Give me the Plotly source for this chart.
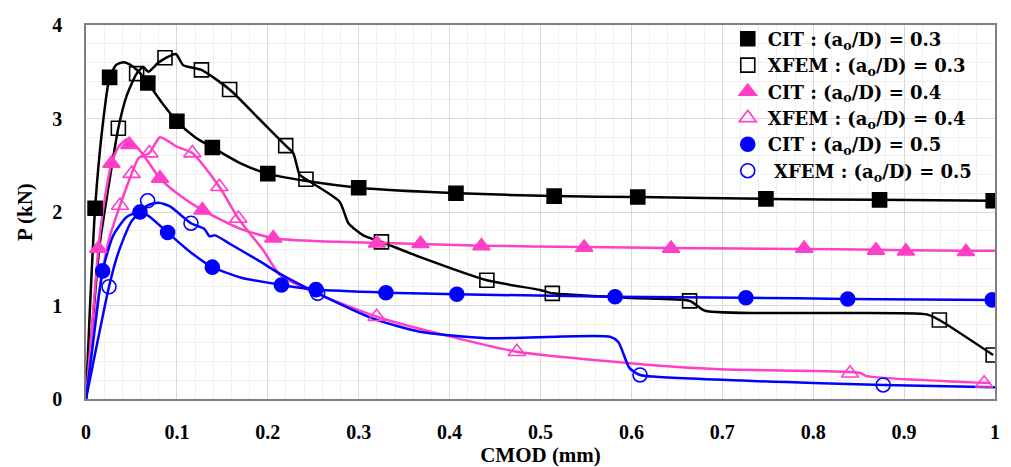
import plotly.graph_objects as go

# ---------------- data ----------------
# CIT : a0/D = 0.3
cit03_line_x = [0, 0.004, 0.01, 0.018, 0.026, 0.033, 0.04, 0.048, 0.058, 0.068, 0.085, 0.1, 0.12, 0.139, 0.17, 0.2, 0.25, 0.3, 0.41, 0.515, 0.61, 0.75, 0.87, 1.0]
cit03_line_y = [0, 0.9, 2.04, 2.9, 3.44, 3.57, 3.6, 3.58, 3.5, 3.38, 3.15, 2.97, 2.8, 2.69, 2.52, 2.41, 2.32, 2.26, 2.2, 2.17, 2.16, 2.14, 2.13, 2.12]
cit03_mk_x = [0.01, 0.026, 0.068, 0.1, 0.139, 0.2, 0.3, 0.407, 0.515, 0.607, 0.748, 0.873, 0.998]
cit03_mk_y = [2.04, 3.44, 3.38, 2.97, 2.69, 2.41, 2.26, 2.20, 2.17, 2.16, 2.14, 2.13, 2.12]

# XFEM : a0/D = 0.3
xfem03_line_x = [0, 0.008, 0.015, 0.022, 0.0356, 0.045, 0.0557, 0.063, 0.0686, 0.08, 0.0987, 0.107, 0.127, 0.158, 0.19, 0.2197, 0.228, 0.235, 0.242, 0.279, 0.2887, 0.305, 0.325, 0.367, 0.441, 0.4994, 0.513, 0.6, 0.664, 0.681, 0.8, 0.925, 0.9388, 0.998]
xfem03_line_y = [0, 0.9, 1.65, 2.1, 2.9, 3.25, 3.48, 3.55, 3.50, 3.6, 3.69, 3.57, 3.52, 3.31, 3.0, 2.71, 2.63, 2.40, 2.35, 2.11, 1.88, 1.75, 1.68, 1.52, 1.27, 1.166, 1.13, 1.08, 1.05, 0.944, 0.92, 0.905, 0.845, 0.47]
xfem03_mk_x = [0.0356, 0.0557, 0.0869, 0.127, 0.158, 0.2197, 0.242, 0.325, 0.441, 0.513, 0.664, 0.9388, 0.998]
xfem03_mk_y = [2.895, 3.48, 3.65, 3.52, 3.31, 2.71, 2.35, 1.68, 1.27, 1.13, 1.05, 0.845, 0.47]

# CIT : a0/D = 0.4
cit04_line_x = [0, 0.006, 0.0136, 0.02, 0.028, 0.036, 0.046, 0.06, 0.0814, 0.1, 0.128, 0.17, 0.206, 0.25, 0.32, 0.435, 0.548, 0.644, 0.79, 0.869, 0.902, 0.968, 1.0]
cit04_line_y = [0, 0.7, 1.61, 2.1, 2.52, 2.7, 2.78, 2.65, 2.36, 2.2, 2.02, 1.82, 1.72, 1.69, 1.67, 1.64, 1.625, 1.615, 1.605, 1.595, 1.59, 1.585, 1.585]
cit04_mk_x = [0.0136, 0.028, 0.0477, 0.0814, 0.128, 0.206, 0.32, 0.368, 0.435, 0.548, 0.6436, 0.79, 0.869, 0.902, 0.968]
cit04_mk_y = [1.61, 2.52, 2.72, 2.36, 2.02, 1.72, 1.665, 1.66, 1.636, 1.62, 1.61, 1.61, 1.59, 1.58, 1.575]

# XFEM : a0/D = 0.4
xfem04_line_x = [0, 0.012, 0.025, 0.0374, 0.0502, 0.058, 0.0697, 0.0814, 0.0997, 0.117, 0.1467, 0.1676, 0.195, 0.2134, 0.2537, 0.3197, 0.4, 0.474, 0.6205, 0.6975, 0.851, 0.859, 0.995]
xfem04_line_y = [0, 1.0, 1.7, 2.07, 2.41, 2.58, 2.63, 2.80, 2.70, 2.63, 2.27, 1.93, 1.59, 1.326, 1.13, 0.88, 0.67, 0.506, 0.364, 0.317, 0.28, 0.245, 0.17]
xfem04_mk_x = [0.0374, 0.0502, 0.0697, 0.117, 0.1467, 0.1676, 0.3197, 0.474, 0.8405, 0.988]
xfem04_mk_y = [2.07, 2.41, 2.63, 2.63, 2.27, 1.93, 0.88, 0.506, 0.275, 0.168]

# CIT : a0/D = 0.5
cit05_line_x = [0, 0.008, 0.0183, 0.03, 0.045, 0.0594, 0.07, 0.0898, 0.115, 0.139, 0.17, 0.215, 0.253, 0.33, 0.408, 0.582, 0.726, 0.838, 0.997]
cit05_line_y = [0, 0.62, 1.37, 1.75, 1.95, 2.0, 1.95, 1.78, 1.57, 1.41, 1.3, 1.22, 1.17, 1.137, 1.12, 1.094, 1.083, 1.07, 1.06]
cit05_mk_x = [0.0183, 0.0594, 0.0898, 0.139, 0.215, 0.253, 0.33, 0.408, 0.582, 0.726, 0.838, 0.997]
cit05_mk_y = [1.37, 2.0, 1.78, 1.41, 1.22, 1.17, 1.137, 1.12, 1.094, 1.083, 1.07, 1.06]

# XFEM : a0/D = 0.5
xfem05_line_x = [0, 0.0253, 0.035, 0.05, 0.0678, 0.0796, 0.0924, 0.1155, 0.13, 0.136, 0.142, 0.16, 0.19, 0.215, 0.2549, 0.316, 0.367, 0.441, 0.5765, 0.5856, 0.598, 0.6095, 0.624, 0.8, 0.877, 1.0]
xfem05_line_y = [0, 1.2, 1.55, 1.9, 2.07, 2.10, 2.06, 1.88, 1.82, 1.74, 1.75, 1.65, 1.48, 1.33, 1.13, 0.86, 0.72, 0.65, 0.666, 0.61, 0.33, 0.257, 0.24, 0.17, 0.15, 0.125]
xfem05_mk_x = [0.0253, 0.0678, 0.1155, 0.2549, 0.6095, 0.877]
xfem05_mk_y = [1.20, 2.12, 1.88, 1.13, 0.257, 0.15]

x_ticks = [0, 0.1, 0.2, 0.3, 0.4, 0.5, 0.6, 0.7, 0.8, 0.9, 1.0]
x_tick_labels = ["0", "0.1", "0.2", "0.3", "0.4", "0.5", "0.6", "0.7", "0.8", "0.9", "1"]
y_ticks = [0, 1, 2, 3, 4]
y_tick_labels = ["0", "1", "2", "3", "4"]

# ---------------- figure ----------------
BLACK = "#000000"
PINK = "#FF3FC6"
BLUE = "#0000FF"
FONT = "Liberation Serif"
LEGEND_FONT = "DejaVu Serif"

series = [
    ("CIT : (a<sub>o</sub>/D) = 0.3", cit03_line_x, cit03_line_y, cit03_mk_x, cit03_mk_y, BLACK, "square"),
    ("XFEM : (a<sub>o</sub>/D) = 0.3", xfem03_line_x, xfem03_line_y, xfem03_mk_x, xfem03_mk_y, BLACK, "square-open"),
    ("CIT : (a<sub>o</sub>/D) = 0.4", cit04_line_x, cit04_line_y, cit04_mk_x, cit04_mk_y, PINK, "triangle-up"),
    ("XFEM : (a<sub>o</sub>/D) = 0.4", xfem04_line_x, xfem04_line_y, xfem04_mk_x, xfem04_mk_y, PINK, "triangle-up-open"),
    ("CIT : (a<sub>o</sub>/D) = 0.5", cit05_line_x, cit05_line_y, cit05_mk_x, cit05_mk_y, BLUE, "circle"),
    (" XFEM : (a<sub>o</sub>/D) = 0.5", xfem05_line_x, xfem05_line_y, xfem05_mk_x, xfem05_mk_y, BLUE, "circle-open"),
]

fig = go.Figure()
for name, lx, ly, mx, my, col, sym in series:
    fig.add_trace(go.Scatter(x=lx, y=ly, mode="lines", showlegend=False, hoverinfo="skip",
                             line=dict(color=col, width=2.5, shape="spline", smoothing=0.6)))
for name, lx, ly, mx, my, col, sym in series:
    size = 15 if "triangle" in sym else 14
    fig.add_trace(go.Scatter(x=mx, y=my, mode="markers", name=name,
                             marker=dict(symbol=sym, size=size, color=col,
                                         line=dict(color=col, width=1.6))))

# white panel behind the legend (covers the gridlines as in the reference)
fig.add_shape(type="rect", xref="paper", yref="paper", x0=0.70, x1=1.0, y0=0.577, y1=1.0,
              fillcolor="white", line=dict(width=0), layer="between")

fig.update_layout(
    width=1011, height=467,
    margin=dict(l=86, r=16, t=25, b=68, autoexpand=False),
    paper_bgcolor="white", plot_bgcolor="white",
    font=dict(family=FONT, size=19, color="black"),
    legend=dict(x=0.706, y=1.012, xanchor="left", yanchor="top", bgcolor="rgba(0,0,0,0)",
                borderwidth=0, font=dict(family=LEGEND_FONT, size=18, color="black", weight="bold"),
                tracegroupgap=0, itemwidth=30),
    showlegend=True,
)
fig.update_xaxes(range=[0, 1], tickvals=x_ticks, ticktext=x_tick_labels, automargin=False,
                 showgrid=True, gridcolor="#d9d9d9", gridwidth=1,
                 minor=dict(dtick=0.02, showgrid=True, gridcolor="#f0f0f0", gridwidth=1),
                 showline=True, linecolor="#7f7f7f", linewidth=1.5, mirror=True,
                 zeroline=False, ticks="", ticklabelstandoff=14,
                 tickfont=dict(family=FONT, size=20, color="black", weight="bold"),
                 title=dict(text="<b>CMOD (mm)</b>", font=dict(family=FONT, size=21, color="black"), standoff=6))
fig.update_yaxes(range=[0, 4], tickvals=y_ticks, ticktext=y_tick_labels, automargin=False,
                 showgrid=True, gridcolor="#d9d9d9", gridwidth=1,
                 minor=dict(dtick=0.2, showgrid=True, gridcolor="#f0f0f0", gridwidth=1),
                 showline=True, linecolor="#7f7f7f", linewidth=1.5, mirror=True,
                 zeroline=False, ticks="", ticklabelstandoff=18,
                 tickfont=dict(family=FONT, size=20, color="black", weight="bold"),
                 title=dict(text="<b>P (kN)</b>", font=dict(family=FONT, size=21, color="black"), standoff=14))

fig.write_html("out.html", config={"displayModeBar": False},
               post_script="document.body.style.margin='0';")
